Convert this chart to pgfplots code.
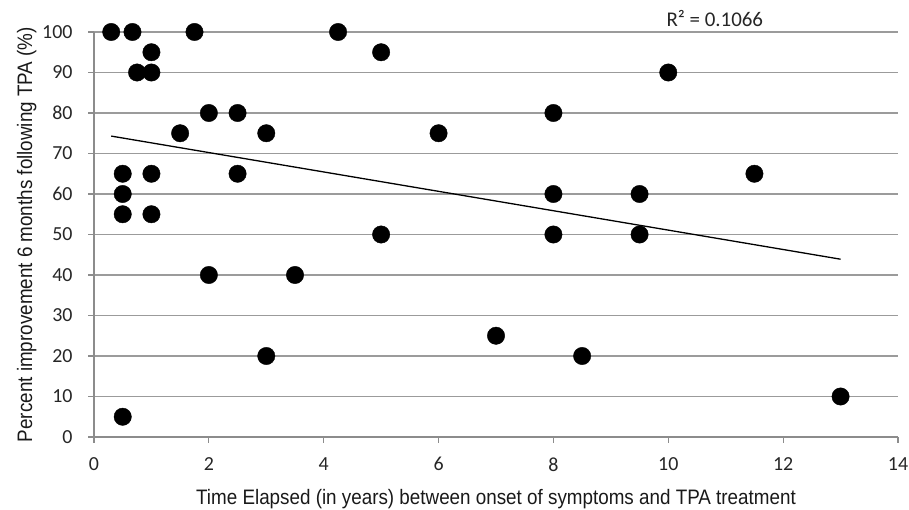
\documentclass[border=0pt]{standalone}
\usepackage{pgfplots}
\pgfplotsset{compat=1.18}
\usepackage{fontspec}
\setmainfont{Carlito}
\newfontfamily\labelfont[FakeStretch=0.9]{Liberation Sans}
\definecolor{axgray}{RGB}{140,140,140}
\definecolor{gridgray}{RGB}{155,155,155}
\begin{document}
\begin{tikzpicture}
\begin{axis}[
  width=804bp, height=405bp, scale only axis,
  xmin=0, xmax=14, ymin=0, ymax=100,
  xtick={0,2,...,14}, ytick={0,10,...,100},
  axis x line*=bottom, axis y line*=left,
  axis line style={axgray, line width=1.5bp},
  tick align=outside, major tick length=6bp,
  tick style={axgray, line width=1.2bp},
  ymajorgrids, grid style={gridgray, line width=1.5bp},
  tick label style={font=\fontsize{20}{24}\selectfont, text=black!85},
  /pgf/number format/assume math mode=true,
  xticklabel style={yshift=-11bp},
  yticklabel style={anchor=east, xshift=-12bp},
  xlabel={Time Elapsed (in years) between onset of symptoms and TPA treatment},
  ylabel={Percent improvement 6 months following TPA (\%)},
  label style={font=\labelfont\fontsize{21}{24}\selectfont, text=black!90},
  xlabel style={at={(axis description cs:0.5,-0.1679)}, anchor=base},
  ylabel style={at={(axis description cs:-0.0771,0.5)}, anchor=base},
  clip=false,
]
\coordinate (sw) at (rel axis cs:0,0);
\coordinate (ne) at (rel axis cs:1,1);
\addplot[only marks, mark=*, mark size=8.7bp, black] coordinates {
(0.3,100)(0.67,100)(1.75,100)(4.25,100)
(1,95)(5,95)
(0.75,90)(1,90)(10,90)
(2,80)(2.5,80)(8,80)
(1.5,75)(3,75)(6,75)
(0.5,65)(1,65)(2.5,65)(11.5,65)
(0.5,60)(8,60)(9.5,60)
(0.5,55)(1,55)
(5,50)(8,50)(9.5,50)
(2,40)(3.5,40)
(3,20)(7,25)(8.5,20)
(0.5,5)(13,10)
};
\addplot[black, line width=1.3bp] coordinates {(0.3,74.3)(13,43.9)};
\node[anchor=base, inner sep=0pt, yshift=5bp, font=\fontsize{21}{24}\selectfont, text=black!85] at (axis cs:10.81,100) {R² = 0.1066};
\end{axis}
\pgfresetboundingbox
\path ([shift={(-94bp,-73bp)}]sw) rectangle ([shift={(11bp,32bp)}]ne);
\end{tikzpicture}
\end{document}
